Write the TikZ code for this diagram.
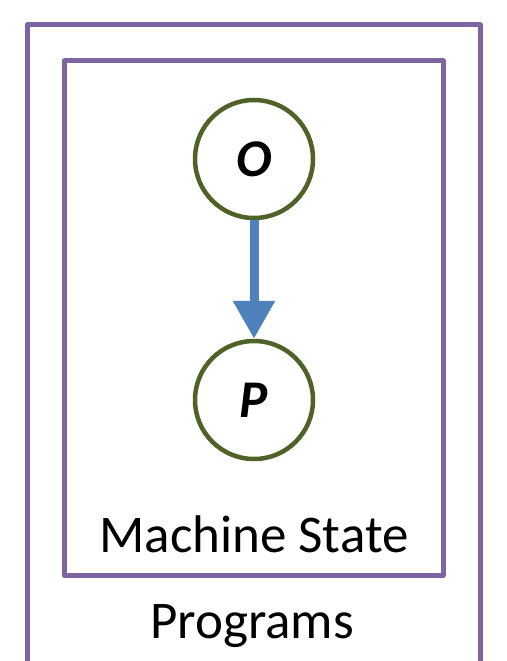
\documentclass[tikz,border=0pt]{standalone}
\usepackage{fontspec}
\setmainfont{Carlito}
\usetikzlibrary{arrows.meta}
\definecolor{pur}{HTML}{8064A2}
\definecolor{olv}{HTML}{4F6228}
\definecolor{blu}{HTML}{4F81BD}
\tikzset{
  box/.style={draw=pur,line width=5pt,line join=round},
  var/.style={circle,draw=olv,fill=white,line width=4.5pt,minimum size=118pt,inner sep=0pt,
    font=\fontsize{53}{60}\selectfont\bfseries\itshape},
  lab/.style={anchor=base,inner sep=0pt,font=\fontsize{53}{60}\selectfont},
  link/.style={draw=blu,line width=9pt,-{Triangle[width=40pt,length=38pt]}}
}
\begin{document}
\begin{tikzpicture}[x=1pt,y=-1pt]
\useasboundingbox[fill=white] (0,0) rectangle (506,661);
\begin{scope}
\clip (0,0) rectangle (506,661);
\draw[box] (27,25) rectangle (480,700);
\end{scope}
\draw[box] (64,61) rectangle (443,575.5);
\node[var] (o) at (254,159) {O};
\node[var] (p) at (254,400) {P};
\draw[link] (o) -- (p);
\node[lab] (ms) at (254,552) {Machine State};
\node[lab] (pg) at (252,638) {Programs};
\end{tikzpicture}
\end{document}
